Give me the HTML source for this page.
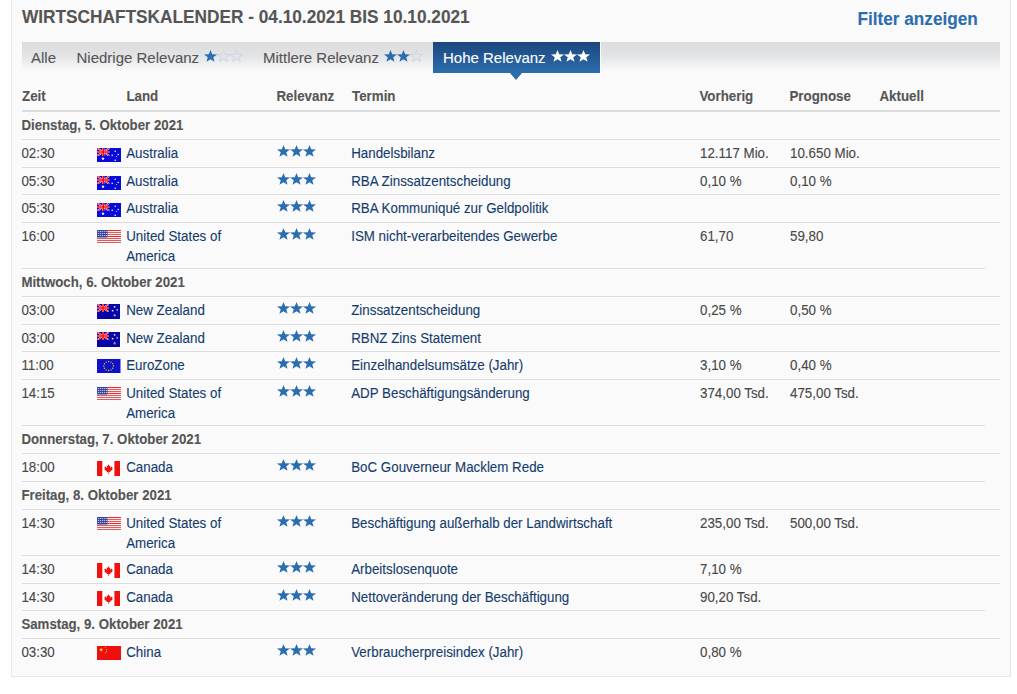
<!DOCTYPE html>
<html><head><meta charset="utf-8">
<style>
*{margin:0;padding:0;box-sizing:border-box}
html,body{width:1017px;height:694px;overflow:hidden;background:#fff}
body{font-family:"Liberation Sans",Arial,Helvetica,sans-serif;position:relative;color:#474747;-webkit-text-stroke:0.1px currentColor}
.box{position:absolute;left:11px;top:-10px;width:1000px;height:687px;background:#fafafa;border:1px solid #e7e7e7}
.title{position:absolute;left:22px;top:4.5px;font-size:17.25px;font-weight:bold;color:#555;line-height:24px;white-space:nowrap;transform:scaleY(1.04);transform-origin:0 18px}
.filter{position:absolute;left:857.5px;top:7px;font-size:17.2px;transform:scaleY(1.05);transform-origin:0 18px;font-weight:bold;color:#2a6db0;line-height:24px;white-space:nowrap;text-decoration:none}
.tabbar{position:absolute;left:22px;top:42px;width:978px;height:31px;background:linear-gradient(#dcdcdd,#e3e4e6 45%,#fafafa 95%)}
.tab{position:absolute;top:0;font-size:15px;line-height:31px;color:#555;white-space:nowrap;transform:scaleY(1.035);transform-origin:0 21px}
.tabact{position:absolute;left:433px;top:42px;width:167px;height:31px;background:linear-gradient(#1b467c,#2d6dae);color:#fff;font-size:15px;line-height:31px;white-space:nowrap;box-shadow:1px 0 0 #fff}
.tabact .lbl{position:absolute;left:10px;top:0;transform:scaleY(1.035);transform-origin:0 21px}
.arrow{position:absolute;left:510px;top:73px;width:0;height:0;border-left:6.5px solid transparent;border-right:6.5px solid transparent;border-top:7px solid #2d6dae}
svg.st{position:absolute}
.hdr{position:absolute;top:87.5px;font-size:13.35px;font-weight:bold;color:#555;line-height:18.57px;white-space:nowrap;transform:scaleY(1.08);transform-origin:0 13.8px}
.hline{position:absolute;left:22px;top:110px;width:978px;height:2px;background:#ddd}
.row{position:absolute;left:0;width:1017px}
.row .c{position:absolute;top:4.5px;font-size:13.35px;line-height:18.57px;white-space:nowrap;transform:scaleY(1.08);transform-origin:0 13.8px}
.row .d{font-weight:bold;color:#555;font-size:13.25px}
.row a{color:#143c6c;text-decoration:none}
.line{position:absolute;left:22px;height:1px;background:#ddd}
.flag{position:absolute;left:97px}
</style></head><body>
<div class="box"></div>
<div class="title">WIRTSCHAFTSKALENDER - 04.10.2021 BIS 10.10.2021</div>
<a class="filter">Filter anzeigen</a>
<div class="tabbar">
<span class="tab" style="left:9px">Alle</span>
<span class="tab" style="left:54.5px">Niedrige Relevanz</span>
<span class="tab" style="left:241px">Mittlere Relevanz</span>
</div>
<div class="tabact"><span class="lbl">Hohe Relevanz</span></div>
<div class="arrow"></div>
<svg class="st" style="left:202.90px;top:48.80px" width="41.00" height="15.00" viewBox="0 0 41.00 15.00"><polygon fill="#2a6db0" points="7.50,1.00 9.20,5.29 14.05,5.49 10.25,8.34 11.55,12.76 7.50,10.23 3.45,12.76 4.75,8.34 0.95,5.49 5.80,5.29"/><polygon fill="#dfe4ea" stroke="#c9d0d9" stroke-width="0.7" points="20.50,1.30 22.20,5.29 26.75,5.58 23.25,8.34 24.36,12.52 20.50,10.23 16.64,12.52 17.75,8.34 14.25,5.58 18.80,5.29"/><polygon fill="#dfe4ea" stroke="#c9d0d9" stroke-width="0.7" points="33.50,1.30 35.20,5.29 39.75,5.58 36.25,8.34 37.36,12.52 33.50,10.23 29.64,12.52 30.75,8.34 27.25,5.58 31.80,5.29"/></svg><svg class="st" style="left:382.90px;top:48.80px" width="41.00" height="15.00" viewBox="0 0 41.00 15.00"><polygon fill="#2a6db0" points="7.50,1.00 9.20,5.29 14.05,5.49 10.25,8.34 11.55,12.76 7.50,10.23 3.45,12.76 4.75,8.34 0.95,5.49 5.80,5.29"/><polygon fill="#2a6db0" points="20.50,1.00 22.20,5.29 27.05,5.49 23.25,8.34 24.55,12.76 20.50,10.23 16.45,12.76 17.75,8.34 13.95,5.49 18.80,5.29"/><polygon fill="#dfe4ea" stroke="#c9d0d9" stroke-width="0.7" points="33.50,1.30 35.20,5.29 39.75,5.58 36.25,8.34 37.36,12.52 33.50,10.23 29.64,12.52 30.75,8.34 27.25,5.58 31.80,5.29"/></svg><svg class="st" style="left:550.30px;top:49.30px" width="41.00" height="15.00" viewBox="0 0 41.00 15.00"><polygon fill="#fff" points="7.50,1.00 9.20,5.29 14.05,5.49 10.25,8.34 11.55,12.76 7.50,10.23 3.45,12.76 4.75,8.34 0.95,5.49 5.80,5.29"/><polygon fill="#fff" points="20.50,1.00 22.20,5.29 27.05,5.49 23.25,8.34 24.55,12.76 20.50,10.23 16.45,12.76 17.75,8.34 13.95,5.49 18.80,5.29"/><polygon fill="#fff" points="33.50,1.00 35.20,5.29 40.05,5.49 36.25,8.34 37.55,12.76 33.50,10.23 29.45,12.76 30.75,8.34 26.95,5.49 31.80,5.29"/></svg>
<div class="hdr" style="left:22px">Zeit</div>
<div class="hdr" style="left:126.4px">Land</div>
<div class="hdr" style="left:276.4px">Relevanz</div>
<div class="hdr" style="left:352px">Termin</div>
<div class="hdr" style="left:699.4px">Vorherig</div>
<div class="hdr" style="left:789.4px">Prognose</div>
<div class="hdr" style="left:879.4px">Aktuell</div>
<div class="hline"></div>
<div class="line" style="top:139px;width:978px"></div>
<div class="row" style="top:112px"><div class="c d" style="left:21.4px">Dienstag, 5. Oktober 2021</div></div>
<div class="line" style="top:167px;width:978px"></div>
<div class="row" style="top:140px"><div class="c" style="left:21.4px">02:30</div><svg class="flag" style="top:8px;left:97px" width="24" height="14" viewBox="0 0 24 14"><rect width="24" height="14" fill="#0a0ad8"/><svg width="12.5" height="8" viewBox="0 0 12.5 8"><rect width="12.5" height="8" fill="#0a0ad8"/><path d="M0,0L12.5,8M12.5,0L0,8" stroke="#fff" stroke-width="1.6"/><path d="M0,0L12.5,8M12.5,0L0,8" stroke="#f00" stroke-width="0.9"/><path d="M6.25,0V8M0,4.0H12.5" stroke="#fff" stroke-width="2.0"/><path d="M6.25,0V8M0,4.0H12.5" stroke="#f00" stroke-width="1.5"/></svg><polygon fill="#fff" points="6.00,8.80 6.47,9.95 7.71,10.04 6.76,10.85 7.06,12.06 6.00,11.40 4.94,12.06 5.24,10.85 4.29,10.04 5.53,9.95"/><circle cx="18.2" cy="3.2" r="0.75" fill="#fff"/><circle cx="15.2" cy="7.3" r="0.75" fill="#fff"/><circle cx="21.2" cy="6.4" r="0.75" fill="#fff"/><circle cx="19.4" cy="8.6" r="0.5" fill="#fff"/><circle cx="18.2" cy="12.2" r="0.8" fill="#fff"/></svg><div class="c" style="left:126.2px"><a>Australia</a></div><svg class="st" style="left:276.00px;top:4.20px" width="41.00" height="15.00" viewBox="0 0 41.00 15.00"><polygon fill="#2a6db0" points="7.50,1.00 9.20,5.29 14.05,5.49 10.25,8.34 11.55,12.76 7.50,10.23 3.45,12.76 4.75,8.34 0.95,5.49 5.80,5.29"/><polygon fill="#2a6db0" points="20.50,1.00 22.20,5.29 27.05,5.49 23.25,8.34 24.55,12.76 20.50,10.23 16.45,12.76 17.75,8.34 13.95,5.49 18.80,5.29"/><polygon fill="#2a6db0" points="33.50,1.00 35.20,5.29 40.05,5.49 36.25,8.34 37.55,12.76 33.50,10.23 29.45,12.76 30.75,8.34 26.95,5.49 31.80,5.29"/></svg><div class="c" style="left:351.2px"><a>Handelsbilanz</a></div><div class="c" style="left:700px">12.117 Mio.</div><div class="c" style="left:790px">10.650 Mio.</div></div>
<div class="line" style="top:194px;width:978px"></div>
<div class="row" style="top:168px"><div class="c" style="left:21.4px">05:30</div><svg class="flag" style="top:8px;left:97px" width="24" height="14" viewBox="0 0 24 14"><rect width="24" height="14" fill="#0a0ad8"/><svg width="12.5" height="8" viewBox="0 0 12.5 8"><rect width="12.5" height="8" fill="#0a0ad8"/><path d="M0,0L12.5,8M12.5,0L0,8" stroke="#fff" stroke-width="1.6"/><path d="M0,0L12.5,8M12.5,0L0,8" stroke="#f00" stroke-width="0.9"/><path d="M6.25,0V8M0,4.0H12.5" stroke="#fff" stroke-width="2.0"/><path d="M6.25,0V8M0,4.0H12.5" stroke="#f00" stroke-width="1.5"/></svg><polygon fill="#fff" points="6.00,8.80 6.47,9.95 7.71,10.04 6.76,10.85 7.06,12.06 6.00,11.40 4.94,12.06 5.24,10.85 4.29,10.04 5.53,9.95"/><circle cx="18.2" cy="3.2" r="0.75" fill="#fff"/><circle cx="15.2" cy="7.3" r="0.75" fill="#fff"/><circle cx="21.2" cy="6.4" r="0.75" fill="#fff"/><circle cx="19.4" cy="8.6" r="0.5" fill="#fff"/><circle cx="18.2" cy="12.2" r="0.8" fill="#fff"/></svg><div class="c" style="left:126.2px"><a>Australia</a></div><svg class="st" style="left:276.00px;top:4.20px" width="41.00" height="15.00" viewBox="0 0 41.00 15.00"><polygon fill="#2a6db0" points="7.50,1.00 9.20,5.29 14.05,5.49 10.25,8.34 11.55,12.76 7.50,10.23 3.45,12.76 4.75,8.34 0.95,5.49 5.80,5.29"/><polygon fill="#2a6db0" points="20.50,1.00 22.20,5.29 27.05,5.49 23.25,8.34 24.55,12.76 20.50,10.23 16.45,12.76 17.75,8.34 13.95,5.49 18.80,5.29"/><polygon fill="#2a6db0" points="33.50,1.00 35.20,5.29 40.05,5.49 36.25,8.34 37.55,12.76 33.50,10.23 29.45,12.76 30.75,8.34 26.95,5.49 31.80,5.29"/></svg><div class="c" style="left:351.2px"><a>RBA Zinssatzentscheidung</a></div><div class="c" style="left:700px">0,10 %</div><div class="c" style="left:790px">0,10 %</div></div>
<div class="line" style="top:222px;width:978px"></div>
<div class="row" style="top:195px"><div class="c" style="left:21.4px">05:30</div><svg class="flag" style="top:8px;left:97px" width="24" height="14" viewBox="0 0 24 14"><rect width="24" height="14" fill="#0a0ad8"/><svg width="12.5" height="8" viewBox="0 0 12.5 8"><rect width="12.5" height="8" fill="#0a0ad8"/><path d="M0,0L12.5,8M12.5,0L0,8" stroke="#fff" stroke-width="1.6"/><path d="M0,0L12.5,8M12.5,0L0,8" stroke="#f00" stroke-width="0.9"/><path d="M6.25,0V8M0,4.0H12.5" stroke="#fff" stroke-width="2.0"/><path d="M6.25,0V8M0,4.0H12.5" stroke="#f00" stroke-width="1.5"/></svg><polygon fill="#fff" points="6.00,8.80 6.47,9.95 7.71,10.04 6.76,10.85 7.06,12.06 6.00,11.40 4.94,12.06 5.24,10.85 4.29,10.04 5.53,9.95"/><circle cx="18.2" cy="3.2" r="0.75" fill="#fff"/><circle cx="15.2" cy="7.3" r="0.75" fill="#fff"/><circle cx="21.2" cy="6.4" r="0.75" fill="#fff"/><circle cx="19.4" cy="8.6" r="0.5" fill="#fff"/><circle cx="18.2" cy="12.2" r="0.8" fill="#fff"/></svg><div class="c" style="left:126.2px"><a>Australia</a></div><svg class="st" style="left:276.00px;top:4.20px" width="41.00" height="15.00" viewBox="0 0 41.00 15.00"><polygon fill="#2a6db0" points="7.50,1.00 9.20,5.29 14.05,5.49 10.25,8.34 11.55,12.76 7.50,10.23 3.45,12.76 4.75,8.34 0.95,5.49 5.80,5.29"/><polygon fill="#2a6db0" points="20.50,1.00 22.20,5.29 27.05,5.49 23.25,8.34 24.55,12.76 20.50,10.23 16.45,12.76 17.75,8.34 13.95,5.49 18.80,5.29"/><polygon fill="#2a6db0" points="33.50,1.00 35.20,5.29 40.05,5.49 36.25,8.34 37.55,12.76 33.50,10.23 29.45,12.76 30.75,8.34 26.95,5.49 31.80,5.29"/></svg><div class="c" style="left:351.2px"><a>RBA Kommuniqué zur Geldpolitik</a></div></div>
<div class="line" style="top:268px;width:963px"></div>
<div class="row" style="top:223px"><div class="c" style="left:21.4px">16:00</div><svg class="flag" style="top:7px;left:97px" width="24" height="13" viewBox="0 0 24 13"><rect width="24" height="13" fill="#eef1f3"/><rect y="0" width="24" height="1" fill="#e45a5a"/><rect y="2" width="24" height="1" fill="#e45a5a"/><rect y="4" width="24" height="1" fill="#e45a5a"/><rect y="6" width="24" height="1" fill="#e45a5a"/><rect y="8" width="24" height="1" fill="#e45a5a"/><rect y="10" width="24" height="1" fill="#e45a5a"/><rect y="12" width="24" height="1" fill="#e45a5a"/><rect width="10.5" height="7.5" fill="#34449c"/><rect x="0.8" y="1.0" width="1" height="1" fill="#d8deee"/><rect x="2.8" y="1.0" width="1" height="1" fill="#d8deee"/><rect x="4.8" y="1.0" width="1" height="1" fill="#d8deee"/><rect x="6.8" y="1.0" width="1" height="1" fill="#d8deee"/><rect x="8.8" y="1.0" width="1" height="1" fill="#d8deee"/><rect x="0.8" y="3.0" width="1" height="1" fill="#d8deee"/><rect x="2.8" y="3.0" width="1" height="1" fill="#d8deee"/><rect x="4.8" y="3.0" width="1" height="1" fill="#d8deee"/><rect x="6.8" y="3.0" width="1" height="1" fill="#d8deee"/><rect x="8.8" y="3.0" width="1" height="1" fill="#d8deee"/><rect x="0.8" y="5.0" width="1" height="1" fill="#d8deee"/><rect x="2.8" y="5.0" width="1" height="1" fill="#d8deee"/><rect x="4.8" y="5.0" width="1" height="1" fill="#d8deee"/><rect x="6.8" y="5.0" width="1" height="1" fill="#d8deee"/><rect x="8.8" y="5.0" width="1" height="1" fill="#d8deee"/><rect y="0" x="10.5" width="13.5" height="1" fill="#f22"/><rect y="6" x="10.5" width="13.5" height="1" fill="#f22"/></svg><div class="c" style="left:126.2px"><a>United States of</a></div><div class="c" style="left:126.2px;top:24.8px"><a>America</a></div><svg class="st" style="left:276.00px;top:4.20px" width="41.00" height="15.00" viewBox="0 0 41.00 15.00"><polygon fill="#2a6db0" points="7.50,1.00 9.20,5.29 14.05,5.49 10.25,8.34 11.55,12.76 7.50,10.23 3.45,12.76 4.75,8.34 0.95,5.49 5.80,5.29"/><polygon fill="#2a6db0" points="20.50,1.00 22.20,5.29 27.05,5.49 23.25,8.34 24.55,12.76 20.50,10.23 16.45,12.76 17.75,8.34 13.95,5.49 18.80,5.29"/><polygon fill="#2a6db0" points="33.50,1.00 35.20,5.29 40.05,5.49 36.25,8.34 37.55,12.76 33.50,10.23 29.45,12.76 30.75,8.34 26.95,5.49 31.80,5.29"/></svg><div class="c" style="left:351.2px"><a>ISM nicht-verarbeitendes Gewerbe</a></div><div class="c" style="left:700px">61,70</div><div class="c" style="left:790px">59,80</div></div>
<div class="line" style="top:296px;width:978px"></div>
<div class="row" style="top:269px"><div class="c d" style="left:21.4px">Mittwoch, 6. Oktober 2021</div></div>
<div class="line" style="top:324px;width:978px"></div>
<div class="row" style="top:297px"><div class="c" style="left:21.4px">03:00</div><svg class="flag" style="top:7px;left:97px" width="23" height="15" viewBox="0 0 23 15"><rect width="23" height="15" fill="#0505a8"/><svg width="12" height="8" viewBox="0 0 12 8"><rect width="12" height="8" fill="#0505a8"/><path d="M0,0L12,8M12,0L0,8" stroke="#fff" stroke-width="1.6"/><path d="M0,0L12,8M12,0L0,8" stroke="#f00" stroke-width="0.9"/><path d="M6.0,0V8M0,4.0H12" stroke="#fff" stroke-width="2.0"/><path d="M6.0,0V8M0,4.0H12" stroke="#f00" stroke-width="1.5"/></svg><polygon fill="#fff" points="17.60,1.70 17.95,2.51 18.84,2.60 18.17,3.19 18.36,4.05 17.60,3.60 16.84,4.05 17.03,3.19 16.36,2.60 17.25,2.51"/><polygon fill="#fff" points="15.60,5.40 15.95,6.21 16.84,6.30 16.17,6.89 16.36,7.75 15.60,7.30 14.84,7.75 15.03,6.89 14.36,6.30 15.25,6.21"/><polygon fill="#f4e8e0" points="20.20,4.70 20.52,5.46 21.34,5.53 20.72,6.07 20.91,6.87 20.20,6.45 19.49,6.87 19.68,6.07 19.06,5.53 19.88,5.46"/><polygon fill="#fff" points="17.60,9.90 18.01,10.83 19.03,10.94 18.27,11.62 18.48,12.61 17.60,12.10 16.72,12.61 16.93,11.62 16.17,10.94 17.19,10.83"/><circle cx="17.6" cy="11.5" r="0.6" fill="#e44"/></svg><div class="c" style="left:126.2px"><a>New Zealand</a></div><svg class="st" style="left:276.00px;top:4.20px" width="41.00" height="15.00" viewBox="0 0 41.00 15.00"><polygon fill="#2a6db0" points="7.50,1.00 9.20,5.29 14.05,5.49 10.25,8.34 11.55,12.76 7.50,10.23 3.45,12.76 4.75,8.34 0.95,5.49 5.80,5.29"/><polygon fill="#2a6db0" points="20.50,1.00 22.20,5.29 27.05,5.49 23.25,8.34 24.55,12.76 20.50,10.23 16.45,12.76 17.75,8.34 13.95,5.49 18.80,5.29"/><polygon fill="#2a6db0" points="33.50,1.00 35.20,5.29 40.05,5.49 36.25,8.34 37.55,12.76 33.50,10.23 29.45,12.76 30.75,8.34 26.95,5.49 31.80,5.29"/></svg><div class="c" style="left:351.2px"><a>Zinssatzentscheidung</a></div><div class="c" style="left:700px">0,25 %</div><div class="c" style="left:790px">0,50 %</div></div>
<div class="line" style="top:351px;width:978px"></div>
<div class="row" style="top:325px"><div class="c" style="left:21.4px">03:00</div><svg class="flag" style="top:7px;left:97px" width="23" height="15" viewBox="0 0 23 15"><rect width="23" height="15" fill="#0505a8"/><svg width="12" height="8" viewBox="0 0 12 8"><rect width="12" height="8" fill="#0505a8"/><path d="M0,0L12,8M12,0L0,8" stroke="#fff" stroke-width="1.6"/><path d="M0,0L12,8M12,0L0,8" stroke="#f00" stroke-width="0.9"/><path d="M6.0,0V8M0,4.0H12" stroke="#fff" stroke-width="2.0"/><path d="M6.0,0V8M0,4.0H12" stroke="#f00" stroke-width="1.5"/></svg><polygon fill="#fff" points="17.60,1.70 17.95,2.51 18.84,2.60 18.17,3.19 18.36,4.05 17.60,3.60 16.84,4.05 17.03,3.19 16.36,2.60 17.25,2.51"/><polygon fill="#fff" points="15.60,5.40 15.95,6.21 16.84,6.30 16.17,6.89 16.36,7.75 15.60,7.30 14.84,7.75 15.03,6.89 14.36,6.30 15.25,6.21"/><polygon fill="#f4e8e0" points="20.20,4.70 20.52,5.46 21.34,5.53 20.72,6.07 20.91,6.87 20.20,6.45 19.49,6.87 19.68,6.07 19.06,5.53 19.88,5.46"/><polygon fill="#fff" points="17.60,9.90 18.01,10.83 19.03,10.94 18.27,11.62 18.48,12.61 17.60,12.10 16.72,12.61 16.93,11.62 16.17,10.94 17.19,10.83"/><circle cx="17.6" cy="11.5" r="0.6" fill="#e44"/></svg><div class="c" style="left:126.2px"><a>New Zealand</a></div><svg class="st" style="left:276.00px;top:4.20px" width="41.00" height="15.00" viewBox="0 0 41.00 15.00"><polygon fill="#2a6db0" points="7.50,1.00 9.20,5.29 14.05,5.49 10.25,8.34 11.55,12.76 7.50,10.23 3.45,12.76 4.75,8.34 0.95,5.49 5.80,5.29"/><polygon fill="#2a6db0" points="20.50,1.00 22.20,5.29 27.05,5.49 23.25,8.34 24.55,12.76 20.50,10.23 16.45,12.76 17.75,8.34 13.95,5.49 18.80,5.29"/><polygon fill="#2a6db0" points="33.50,1.00 35.20,5.29 40.05,5.49 36.25,8.34 37.55,12.76 33.50,10.23 29.45,12.76 30.75,8.34 26.95,5.49 31.80,5.29"/></svg><div class="c" style="left:351.2px"><a>RBNZ Zins Statement</a></div></div>
<div class="line" style="top:379px;width:978px"></div>
<div class="row" style="top:352px"><div class="c" style="left:21.4px">11:00</div><svg class="flag" style="top:7px;left:97px" width="23.5" height="14" viewBox="0 0 23.5 14"><rect width="23.5" height="14" fill="#1010cc"/><circle cx="16.40" cy="7.00" r="0.68" fill="#f0c810"/><circle cx="15.76" cy="9.25" r="0.68" fill="#f0c810"/><circle cx="14.00" cy="10.90" r="0.68" fill="#f0c810"/><circle cx="11.60" cy="11.50" r="0.68" fill="#f0c810"/><circle cx="9.20" cy="10.90" r="0.68" fill="#f0c810"/><circle cx="7.44" cy="9.25" r="0.68" fill="#f0c810"/><circle cx="6.80" cy="7.00" r="0.68" fill="#f0c810"/><circle cx="7.44" cy="4.75" r="0.68" fill="#f0c810"/><circle cx="9.20" cy="3.10" r="0.68" fill="#f0c810"/><circle cx="11.60" cy="2.50" r="0.68" fill="#f0c810"/><circle cx="14.00" cy="3.10" r="0.68" fill="#f0c810"/><circle cx="15.76" cy="4.75" r="0.68" fill="#f0c810"/></svg><div class="c" style="left:126.2px"><a>EuroZone</a></div><svg class="st" style="left:276.00px;top:4.20px" width="41.00" height="15.00" viewBox="0 0 41.00 15.00"><polygon fill="#2a6db0" points="7.50,1.00 9.20,5.29 14.05,5.49 10.25,8.34 11.55,12.76 7.50,10.23 3.45,12.76 4.75,8.34 0.95,5.49 5.80,5.29"/><polygon fill="#2a6db0" points="20.50,1.00 22.20,5.29 27.05,5.49 23.25,8.34 24.55,12.76 20.50,10.23 16.45,12.76 17.75,8.34 13.95,5.49 18.80,5.29"/><polygon fill="#2a6db0" points="33.50,1.00 35.20,5.29 40.05,5.49 36.25,8.34 37.55,12.76 33.50,10.23 29.45,12.76 30.75,8.34 26.95,5.49 31.80,5.29"/></svg><div class="c" style="left:351.2px"><a>Einzelhandelsumsätze (Jahr)</a></div><div class="c" style="left:700px">3,10 %</div><div class="c" style="left:790px">0,40 %</div></div>
<div class="line" style="top:425px;width:963px"></div>
<div class="row" style="top:380px"><div class="c" style="left:21.4px">14:15</div><svg class="flag" style="top:7px;left:97px" width="24" height="13" viewBox="0 0 24 13"><rect width="24" height="13" fill="#eef1f3"/><rect y="0" width="24" height="1" fill="#e45a5a"/><rect y="2" width="24" height="1" fill="#e45a5a"/><rect y="4" width="24" height="1" fill="#e45a5a"/><rect y="6" width="24" height="1" fill="#e45a5a"/><rect y="8" width="24" height="1" fill="#e45a5a"/><rect y="10" width="24" height="1" fill="#e45a5a"/><rect y="12" width="24" height="1" fill="#e45a5a"/><rect width="10.5" height="7.5" fill="#34449c"/><rect x="0.8" y="1.0" width="1" height="1" fill="#d8deee"/><rect x="2.8" y="1.0" width="1" height="1" fill="#d8deee"/><rect x="4.8" y="1.0" width="1" height="1" fill="#d8deee"/><rect x="6.8" y="1.0" width="1" height="1" fill="#d8deee"/><rect x="8.8" y="1.0" width="1" height="1" fill="#d8deee"/><rect x="0.8" y="3.0" width="1" height="1" fill="#d8deee"/><rect x="2.8" y="3.0" width="1" height="1" fill="#d8deee"/><rect x="4.8" y="3.0" width="1" height="1" fill="#d8deee"/><rect x="6.8" y="3.0" width="1" height="1" fill="#d8deee"/><rect x="8.8" y="3.0" width="1" height="1" fill="#d8deee"/><rect x="0.8" y="5.0" width="1" height="1" fill="#d8deee"/><rect x="2.8" y="5.0" width="1" height="1" fill="#d8deee"/><rect x="4.8" y="5.0" width="1" height="1" fill="#d8deee"/><rect x="6.8" y="5.0" width="1" height="1" fill="#d8deee"/><rect x="8.8" y="5.0" width="1" height="1" fill="#d8deee"/><rect y="0" x="10.5" width="13.5" height="1" fill="#f22"/><rect y="6" x="10.5" width="13.5" height="1" fill="#f22"/></svg><div class="c" style="left:126.2px"><a>United States of</a></div><div class="c" style="left:126.2px;top:24.8px"><a>America</a></div><svg class="st" style="left:276.00px;top:4.20px" width="41.00" height="15.00" viewBox="0 0 41.00 15.00"><polygon fill="#2a6db0" points="7.50,1.00 9.20,5.29 14.05,5.49 10.25,8.34 11.55,12.76 7.50,10.23 3.45,12.76 4.75,8.34 0.95,5.49 5.80,5.29"/><polygon fill="#2a6db0" points="20.50,1.00 22.20,5.29 27.05,5.49 23.25,8.34 24.55,12.76 20.50,10.23 16.45,12.76 17.75,8.34 13.95,5.49 18.80,5.29"/><polygon fill="#2a6db0" points="33.50,1.00 35.20,5.29 40.05,5.49 36.25,8.34 37.55,12.76 33.50,10.23 29.45,12.76 30.75,8.34 26.95,5.49 31.80,5.29"/></svg><div class="c" style="left:351.2px"><a>ADP Beschäftigungsänderung</a></div><div class="c" style="left:700px">374,00 Tsd.</div><div class="c" style="left:790px">475,00 Tsd.</div></div>
<div class="line" style="top:453px;width:978px"></div>
<div class="row" style="top:426px"><div class="c d" style="left:21.4px">Donnerstag, 7. Oktober 2021</div></div>
<div class="line" style="top:481px;width:963px"></div>
<div class="row" style="top:454px"><div class="c" style="left:21.4px">18:00</div><svg class="flag" style="top:7px;left:97px" width="23" height="15" viewBox="0 0 23 15"><rect width="23" height="15" fill="#fff"/><rect width="5.3" height="15" fill="#f01010"/><rect x="17.4" width="5.6" height="15" fill="#f01010"/><path d="M11.5,3.3 L12.4,5 L13.3,4.6 L13,7 L14.6,5.6 L15.6,6.2 L15.1,8 L15.8,8.4 L13.2,10.3 L13.5,11.2 L11.8,11 L11.8,13.2 L11.2,13.2 L11.2,11 L9.5,11.2 L9.8,10.3 L7.2,8.4 L7.9,8 L7.4,6.2 L8.4,5.6 L10,7 L9.7,4.6 L10.6,5 Z" fill="#f01010"/></svg><div class="c" style="left:126.2px"><a>Canada</a></div><svg class="st" style="left:276.00px;top:4.20px" width="41.00" height="15.00" viewBox="0 0 41.00 15.00"><polygon fill="#2a6db0" points="7.50,1.00 9.20,5.29 14.05,5.49 10.25,8.34 11.55,12.76 7.50,10.23 3.45,12.76 4.75,8.34 0.95,5.49 5.80,5.29"/><polygon fill="#2a6db0" points="20.50,1.00 22.20,5.29 27.05,5.49 23.25,8.34 24.55,12.76 20.50,10.23 16.45,12.76 17.75,8.34 13.95,5.49 18.80,5.29"/><polygon fill="#2a6db0" points="33.50,1.00 35.20,5.29 40.05,5.49 36.25,8.34 37.55,12.76 33.50,10.23 29.45,12.76 30.75,8.34 26.95,5.49 31.80,5.29"/></svg><div class="c" style="left:351.2px"><a>BoC Gouverneur Macklem Rede</a></div></div>
<div class="line" style="top:509px;width:978px"></div>
<div class="row" style="top:482px"><div class="c d" style="left:21.4px">Freitag, 8. Oktober 2021</div></div>
<div class="line" style="top:555px;width:978px"></div>
<div class="row" style="top:510px"><div class="c" style="left:21.4px">14:30</div><svg class="flag" style="top:7px;left:97px" width="24" height="13" viewBox="0 0 24 13"><rect width="24" height="13" fill="#eef1f3"/><rect y="0" width="24" height="1" fill="#e45a5a"/><rect y="2" width="24" height="1" fill="#e45a5a"/><rect y="4" width="24" height="1" fill="#e45a5a"/><rect y="6" width="24" height="1" fill="#e45a5a"/><rect y="8" width="24" height="1" fill="#e45a5a"/><rect y="10" width="24" height="1" fill="#e45a5a"/><rect y="12" width="24" height="1" fill="#e45a5a"/><rect width="10.5" height="7.5" fill="#34449c"/><rect x="0.8" y="1.0" width="1" height="1" fill="#d8deee"/><rect x="2.8" y="1.0" width="1" height="1" fill="#d8deee"/><rect x="4.8" y="1.0" width="1" height="1" fill="#d8deee"/><rect x="6.8" y="1.0" width="1" height="1" fill="#d8deee"/><rect x="8.8" y="1.0" width="1" height="1" fill="#d8deee"/><rect x="0.8" y="3.0" width="1" height="1" fill="#d8deee"/><rect x="2.8" y="3.0" width="1" height="1" fill="#d8deee"/><rect x="4.8" y="3.0" width="1" height="1" fill="#d8deee"/><rect x="6.8" y="3.0" width="1" height="1" fill="#d8deee"/><rect x="8.8" y="3.0" width="1" height="1" fill="#d8deee"/><rect x="0.8" y="5.0" width="1" height="1" fill="#d8deee"/><rect x="2.8" y="5.0" width="1" height="1" fill="#d8deee"/><rect x="4.8" y="5.0" width="1" height="1" fill="#d8deee"/><rect x="6.8" y="5.0" width="1" height="1" fill="#d8deee"/><rect x="8.8" y="5.0" width="1" height="1" fill="#d8deee"/><rect y="0" x="10.5" width="13.5" height="1" fill="#f22"/><rect y="6" x="10.5" width="13.5" height="1" fill="#f22"/></svg><div class="c" style="left:126.2px"><a>United States of</a></div><div class="c" style="left:126.2px;top:24.8px"><a>America</a></div><svg class="st" style="left:276.00px;top:4.20px" width="41.00" height="15.00" viewBox="0 0 41.00 15.00"><polygon fill="#2a6db0" points="7.50,1.00 9.20,5.29 14.05,5.49 10.25,8.34 11.55,12.76 7.50,10.23 3.45,12.76 4.75,8.34 0.95,5.49 5.80,5.29"/><polygon fill="#2a6db0" points="20.50,1.00 22.20,5.29 27.05,5.49 23.25,8.34 24.55,12.76 20.50,10.23 16.45,12.76 17.75,8.34 13.95,5.49 18.80,5.29"/><polygon fill="#2a6db0" points="33.50,1.00 35.20,5.29 40.05,5.49 36.25,8.34 37.55,12.76 33.50,10.23 29.45,12.76 30.75,8.34 26.95,5.49 31.80,5.29"/></svg><div class="c" style="left:351.2px"><a>Beschäftigung außerhalb der Landwirtschaft</a></div><div class="c" style="left:700px">235,00 Tsd.</div><div class="c" style="left:790px">500,00 Tsd.</div></div>
<div class="line" style="top:583px;width:978px"></div>
<div class="row" style="top:556px"><div class="c" style="left:21.4px">14:30</div><svg class="flag" style="top:7px;left:97px" width="23" height="15" viewBox="0 0 23 15"><rect width="23" height="15" fill="#fff"/><rect width="5.3" height="15" fill="#f01010"/><rect x="17.4" width="5.6" height="15" fill="#f01010"/><path d="M11.5,3.3 L12.4,5 L13.3,4.6 L13,7 L14.6,5.6 L15.6,6.2 L15.1,8 L15.8,8.4 L13.2,10.3 L13.5,11.2 L11.8,11 L11.8,13.2 L11.2,13.2 L11.2,11 L9.5,11.2 L9.8,10.3 L7.2,8.4 L7.9,8 L7.4,6.2 L8.4,5.6 L10,7 L9.7,4.6 L10.6,5 Z" fill="#f01010"/></svg><div class="c" style="left:126.2px"><a>Canada</a></div><svg class="st" style="left:276.00px;top:4.20px" width="41.00" height="15.00" viewBox="0 0 41.00 15.00"><polygon fill="#2a6db0" points="7.50,1.00 9.20,5.29 14.05,5.49 10.25,8.34 11.55,12.76 7.50,10.23 3.45,12.76 4.75,8.34 0.95,5.49 5.80,5.29"/><polygon fill="#2a6db0" points="20.50,1.00 22.20,5.29 27.05,5.49 23.25,8.34 24.55,12.76 20.50,10.23 16.45,12.76 17.75,8.34 13.95,5.49 18.80,5.29"/><polygon fill="#2a6db0" points="33.50,1.00 35.20,5.29 40.05,5.49 36.25,8.34 37.55,12.76 33.50,10.23 29.45,12.76 30.75,8.34 26.95,5.49 31.80,5.29"/></svg><div class="c" style="left:351.2px"><a>Arbeitslosenquote</a></div><div class="c" style="left:700px">7,10 %</div></div>
<div class="line" style="top:610px;width:963px"></div>
<div class="row" style="top:584px"><div class="c" style="left:21.4px">14:30</div><svg class="flag" style="top:7px;left:97px" width="23" height="15" viewBox="0 0 23 15"><rect width="23" height="15" fill="#fff"/><rect width="5.3" height="15" fill="#f01010"/><rect x="17.4" width="5.6" height="15" fill="#f01010"/><path d="M11.5,3.3 L12.4,5 L13.3,4.6 L13,7 L14.6,5.6 L15.6,6.2 L15.1,8 L15.8,8.4 L13.2,10.3 L13.5,11.2 L11.8,11 L11.8,13.2 L11.2,13.2 L11.2,11 L9.5,11.2 L9.8,10.3 L7.2,8.4 L7.9,8 L7.4,6.2 L8.4,5.6 L10,7 L9.7,4.6 L10.6,5 Z" fill="#f01010"/></svg><div class="c" style="left:126.2px"><a>Canada</a></div><svg class="st" style="left:276.00px;top:4.20px" width="41.00" height="15.00" viewBox="0 0 41.00 15.00"><polygon fill="#2a6db0" points="7.50,1.00 9.20,5.29 14.05,5.49 10.25,8.34 11.55,12.76 7.50,10.23 3.45,12.76 4.75,8.34 0.95,5.49 5.80,5.29"/><polygon fill="#2a6db0" points="20.50,1.00 22.20,5.29 27.05,5.49 23.25,8.34 24.55,12.76 20.50,10.23 16.45,12.76 17.75,8.34 13.95,5.49 18.80,5.29"/><polygon fill="#2a6db0" points="33.50,1.00 35.20,5.29 40.05,5.49 36.25,8.34 37.55,12.76 33.50,10.23 29.45,12.76 30.75,8.34 26.95,5.49 31.80,5.29"/></svg><div class="c" style="left:351.2px"><a>Nettoveränderung der Beschäftigung</a></div><div class="c" style="left:700px">90,20 Tsd.</div></div>
<div class="line" style="top:638px;width:978px"></div>
<div class="row" style="top:611px"><div class="c d" style="left:21.4px">Samstag, 9. Oktober 2021</div></div>
<div class="row" style="top:639px"><div class="c" style="left:21.4px">03:30</div><svg class="flag" style="top:7px;left:97px" width="24" height="14" viewBox="0 0 24 14"><rect width="24" height="14" fill="#ee1010"/><polygon fill="#ffde00" points="4.20,1.60 4.73,3.07 6.29,3.12 5.06,4.08 5.49,5.58 4.20,4.70 2.91,5.58 3.34,4.08 2.11,3.12 3.67,3.07"/><circle cx="8.4" cy="1.6" r="0.5" fill="#f6b070"/><circle cx="9.6" cy="3.5" r="0.55" fill="#ffde00"/><circle cx="9.6" cy="5.6" r="0.55" fill="#ffde00"/><circle cx="8.4" cy="7.1" r="0.5" fill="#f6b070"/></svg><div class="c" style="left:126.2px"><a>China</a></div><svg class="st" style="left:276.00px;top:4.20px" width="41.00" height="15.00" viewBox="0 0 41.00 15.00"><polygon fill="#2a6db0" points="7.50,1.00 9.20,5.29 14.05,5.49 10.25,8.34 11.55,12.76 7.50,10.23 3.45,12.76 4.75,8.34 0.95,5.49 5.80,5.29"/><polygon fill="#2a6db0" points="20.50,1.00 22.20,5.29 27.05,5.49 23.25,8.34 24.55,12.76 20.50,10.23 16.45,12.76 17.75,8.34 13.95,5.49 18.80,5.29"/><polygon fill="#2a6db0" points="33.50,1.00 35.20,5.29 40.05,5.49 36.25,8.34 37.55,12.76 33.50,10.23 29.45,12.76 30.75,8.34 26.95,5.49 31.80,5.29"/></svg><div class="c" style="left:351.2px"><a>Verbraucherpreisindex (Jahr)</a></div><div class="c" style="left:700px">0,80 %</div></div>
</body></html>
